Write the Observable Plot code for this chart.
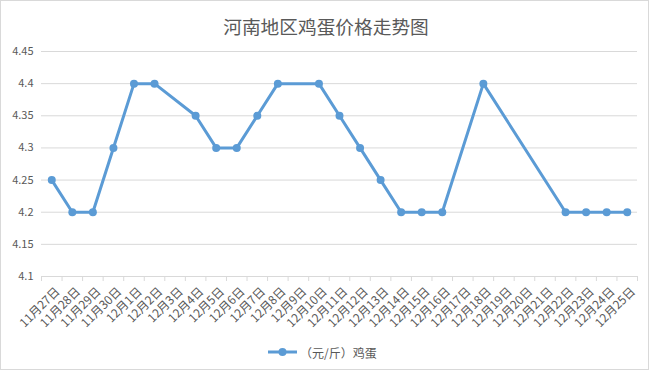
<!DOCTYPE html>
<html>
<head>
<meta charset="utf-8">
<script src="https://cdn.jsdelivr.net/npm/d3@7"></script>
<script src="https://cdn.jsdelivr.net/npm/@observablehq/plot@0.6"></script>
<style>
  html, body { margin: 0; padding: 0; background: #fff; }
  #wrap { position: relative; width: 652px; height: 371px; overflow: hidden; font-family: "Noto Sans CJK SC", "Noto Sans", sans-serif; }
  #border { position: absolute; left: 0; top: 0; width: 647px; height: 368px; border: 1px solid #d9d9d9; pointer-events: none; }
  #title { position: absolute; left: 0; width: 652px; top: 13px; text-align: center; font-size: 18.7px; line-height: 26px; color: #595959; }
  #legend { position: absolute; left: 266px; top: 343px; height: 18px; display: flex; align-items: center; font-size: 12px; color: #595959; }
  #chart { position: absolute; left: 0; top: 0; }
</style>
</head>
<body>
<div id="wrap">
  <div id="chart"></div>
  <div id="title">河南地区鸡蛋价格走势图</div>
  <div id="legend"><svg width="34" height="18"><line x1="2" x2="31" y1="9" y2="9" stroke="#5b9bd5" stroke-width="3"/><circle cx="16.5" cy="9" r="4" fill="#5b9bd5"/></svg><span>（元/斤）鸡蛋</span></div>
  <div id="border"></div>
</div>
<script>
const dates = ["11月27日","11月28日","11月29日","11月30日","12月1日","12月2日","12月3日","12月4日","12月5日","12月6日","12月7日","12月8日","12月9日","12月10日","12月11日","12月12日","12月13日","12月14日","12月15日","12月16日","12月17日","12月18日","12月19日","12月20日","12月21日","12月22日","12月23日","12月24日","12月25日"];
const prices = [4.25,4.2,4.2,4.3,4.4,4.4,null,4.35,4.3,4.3,4.35,4.4,null,4.4,4.35,4.3,4.25,4.2,4.2,4.2,null,4.4,null,null,null,4.2,4.2,4.2,4.2];
const yTicks = [4.1,4.15,4.2,4.25,4.3,4.35,4.4,4.45];

const data = dates.map((d, i) => ({i, date: d, price: prices[i]})).filter(d => d.price != null);
const idx = dates.map((d, i) => i);
const bounds = dates.map((d, i) => i - 0.5).concat([dates.length - 0.5]);
const color = "#5b9bd5";
const grey = "#595959";

const chart = Plot.plot({
  width: 652,
  height: 371,
  marginLeft: 41,
  marginRight: 15,
  marginTop: 51,
  marginBottom: 95,
  style: {fontFamily: "'Noto Sans CJK SC', 'Noto Sans', sans-serif", background: "transparent"},
  x: {type: "linear", domain: [-0.5, dates.length - 0.5]},
  y: {type: "linear", domain: [yTicks[0], yTicks[yTicks.length - 1]]},
  marks: [
    Plot.gridY(yTicks, {stroke: "#d9d9d9", strokeOpacity: 1, strokeWidth: 1}),
    Plot.axisY({ticks: yTicks, tickSize: 0, tickPadding: 8, tickFormat: d => String(d), fill: grey, fontSize: 11, label: null}),
    Plot.axisX({ticks: bounds, tickSize: 5, stroke: "#d9d9d9", strokeOpacity: 1, tickFormat: () => "", label: null}),
    Plot.axisX({ticks: idx, tickSize: 0, tickPadding: 13, dx: 6, tickRotate: -45, tickFormat: i => dates[i], fill: grey, fontSize: 12, label: null}),
    Plot.line(data, {x: "i", y: "price", stroke: color, strokeWidth: 3}),
    Plot.dot(data, {x: "i", y: "price", r: 4, fill: color})
  ]
});
document.getElementById("chart").appendChild(chart);
</script>
</body>
</html>
